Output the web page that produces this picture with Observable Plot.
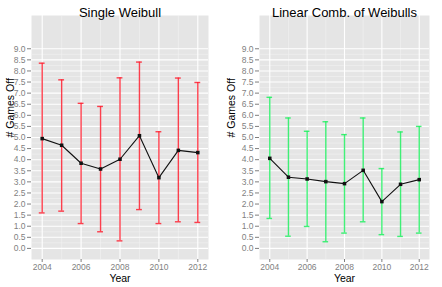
<!DOCTYPE html>
<html>
<head>
<meta charset="utf-8">
<script src="https://cdn.jsdelivr.net/npm/d3@7"></script>
<script src="https://cdn.jsdelivr.net/npm/@observablehq/plot@0.6"></script>
<style>
body { margin: 0; background: #fff; }
#wrap { display: flex; width: 442px; height: 287px; }
</style>
</head>
<body>
<div id="wrap"></div>
<script>
const years = [2004, 2005, 2006, 2007, 2008, 2009, 2010, 2011, 2012];

const singleMean  = [4.95, 4.65, 3.84, 3.58, 4.02, 5.08, 3.19, 4.42, 4.32];
const singleLower = [1.60, 1.68, 1.12, 0.75, 0.34, 1.75, 1.12, 1.20, 1.17];
const singleUpper = [8.35, 7.60, 6.54, 6.40, 7.69, 8.40, 5.26, 7.68, 7.48];

const combMean  = [4.06, 3.21, 3.13, 3.01, 2.92, 3.52, 2.11, 2.89, 3.10];
const combLower = [1.35, 0.55, 0.99, 0.30, 0.69, 1.20, 0.62, 0.54, 0.69];
const combUpper = [6.81, 5.88, 5.28, 5.71, 5.13, 5.88, 3.60, 5.25, 5.50];

const yTicks = d3.range(0, 9.01, 0.5);
const yMinor = d3.range(0.25, 9.0, 0.5);
const xTicks = [2004, 2006, 2008, 2010, 2012];
const xMinor = [2005, 2007, 2009, 2011];

function panel(title, mean, lower, upper, color, marginLeft) {
  const data = years.map((year, i) => ({year, mean: mean[i], lower: lower[i], upper: upper[i]}));
  return Plot.plot({
    width: 221,
    height: 287,
    marginLeft,
    marginRight: 13,
    marginTop: 15,
    marginBottom: 28,
    style: {fontFamily: "Liberation Sans, Arial, sans-serif", background: "#fff", overflow: "visible"},
    x: {domain: [2003.45, 2012.55]},
    y: {domain: [-0.5, 10.5]},
    marks: [
      Plot.frame({fill: "#e5e5e5", stroke: null}),
      Plot.ruleY(yMinor, {stroke: "#f2f2f2", strokeWidth: 0.6}),
      Plot.ruleX(xMinor, {stroke: "#f2f2f2", strokeWidth: 0.6}),
      Plot.ruleY(yTicks, {stroke: "#ffffff", strokeWidth: 1.1}),
      Plot.ruleX(xTicks, {stroke: "#ffffff", strokeWidth: 1.1}),
      Plot.axisY(yTicks, {tickFormat: d3.format(".1f"), tickSize: 4, tickPadding: 2, fontSize: 8.5, color: "#7f7f7f", stroke: "#7f7f7f", label: null}),
      Plot.axisX(xTicks, {tickFormat: d3.format("d"), tickSize: 3, tickPadding: 1, fontSize: 8.5, color: "#7f7f7f", stroke: "#7f7f7f", label: null}),
      Plot.ruleX(data, {x: "year", y1: "lower", y2: "upper", stroke: color, strokeWidth: 1.4, strokeOpacity: 0.85}),
      Plot.ruleY(data, {y: "upper", x1: d => d.year - 0.15, x2: d => d.year + 0.15, stroke: color, strokeWidth: 1.4, strokeOpacity: 0.85}),
      Plot.ruleY(data, {y: "lower", x1: d => d.year - 0.15, x2: d => d.year + 0.15, stroke: color, strokeWidth: 1.4, strokeOpacity: 0.85}),
      Plot.line(data, {x: "year", y: "mean", stroke: "#111", strokeWidth: 1.1}),
      Plot.dot(data, {x: "year", y: "mean", fill: "#111", r: 2, symbol: "square"}),
      Plot.text([title], {frameAnchor: "top", dy: -8, fontSize: 13, fill: "#000"}),
      Plot.text(["Year"], {frameAnchor: "bottom", dy: 22, fontSize: 10.5, fill: "#000"}),
      Plot.text(["# Games Off"], {frameAnchor: "left", dx: -(marginLeft - 10), rotate: -90, fontSize: 10.5, fill: "#000"})
    ]
  });
}

const wrap = document.getElementById("wrap");
wrap.appendChild(panel("Single Weibull", singleMean, singleLower, singleUpper, "#ff2030", 31));
wrap.appendChild(panel("Linear Comb. of Weibulls", combMean, combLower, combUpper, "#20f060", 38));
</script>
</body>
</html>
